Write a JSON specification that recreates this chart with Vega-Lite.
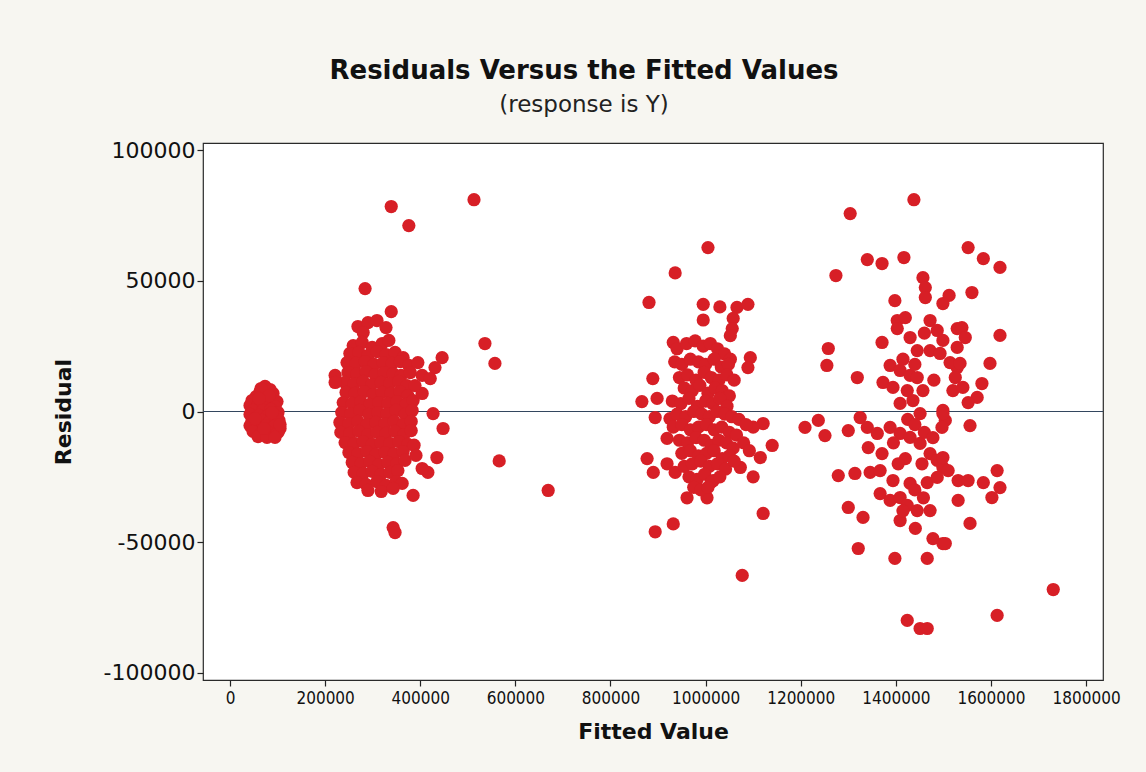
{
  "$schema": "https://vega.github.io/schema/vega-lite/v6.json",
  "width": 900,
  "height": 537,
  "autosize": {"type": "none"},
  "padding": {"left": 203, "top": 143, "right": 43, "bottom": 92},
  "background": "#f7f6f1",
  "title": {
    "text": "Residuals Versus the Fitted Values",
    "subtitle": "(response is Y)",
    "anchor": "middle",
    "dx": -69,
    "offset": 22,
    "font": "DejaVu Sans",
    "fontSize": 26,
    "fontWeight": "bold",
    "color": "#111111",
    "subtitleFont": "DejaVu Sans",
    "subtitleFontSize": 23,
    "subtitleColor": "#222222",
    "subtitlePadding": 10
  },
  "data": {
    "values": [
      {"fitted": 73600, "residual": 9600}, {"fitted": 84100, "residual": 8400}, {"fitted": 63100, "residual": 7600},
      {"fitted": 90400, "residual": 6900}, {"fitted": 54700, "residual": 5700}, {"fitted": 75700, "residual": 5700},
      {"fitted": 46300, "residual": 4200}, {"fitted": 67300, "residual": 4200}, {"fitted": 86200, "residual": 4600},
      {"fitted": 98800, "residual": 3800}, {"fitted": 42100, "residual": 2300}, {"fitted": 58900, "residual": 2300},
      {"fitted": 79900, "residual": 2700}, {"fitted": 94600, "residual": 1900}, {"fitted": 48400, "residual": 400},
      {"fitted": 69400, "residual": 400}, {"fitted": 86200, "residual": 800}, {"fitted": 100900, "residual": -400},
      {"fitted": 42100, "residual": -1100}, {"fitted": 61000, "residual": -1500}, {"fitted": 79900, "residual": -1500},
      {"fitted": 96700, "residual": -1900}, {"fitted": 46300, "residual": -3400}, {"fitted": 67300, "residual": -3400},
      {"fitted": 84100, "residual": -3800}, {"fitted": 103000, "residual": -3400}, {"fitted": 42100, "residual": -5400},
      {"fitted": 56800, "residual": -5700}, {"fitted": 75700, "residual": -5400}, {"fitted": 92500, "residual": -5700},
      {"fitted": 105200, "residual": -6500}, {"fitted": 48400, "residual": -7600}, {"fitted": 67300, "residual": -8000},
      {"fitted": 84100, "residual": -8400}, {"fitted": 100900, "residual": -8000}, {"fitted": 58900, "residual": -9600},
      {"fitted": 77800, "residual": -9900}, {"fitted": 94600, "residual": -9900}, {"fitted": 65200, "residual": 8800},
      {"fitted": 82000, "residual": 6100}, {"fitted": 52600, "residual": -2700}, {"fitted": 71500, "residual": -6500},
      {"fitted": 105200, "residual": -5000}, {"fitted": 88300, "residual": -400}, {"fitted": 61000, "residual": 5000},

      {"fitted": 269000, "residual": 32500}, {"fitted": 290000, "residual": 34000}, {"fitted": 309000, "residual": 34800},
      {"fitted": 328000, "residual": 32100}, {"fitted": 280000, "residual": 30200},
      {"fitted": 259000, "residual": 25200}, {"fitted": 278000, "residual": 26400}, {"fitted": 299000, "residual": 24500},
      {"fitted": 320000, "residual": 26000}, {"fitted": 334000, "residual": 27200},
      {"fitted": 252000, "residual": 22200}, {"fitted": 271000, "residual": 22600}, {"fitted": 290000, "residual": 21400},
      {"fitted": 309000, "residual": 22900}, {"fitted": 328000, "residual": 21800}, {"fitted": 347000, "residual": 22600},
      {"fitted": 364000, "residual": 20600},
      {"fitted": 246000, "residual": 18700}, {"fitted": 265000, "residual": 18400}, {"fitted": 284000, "residual": 19100},
      {"fitted": 303000, "residual": 18000}, {"fitted": 322000, "residual": 18700}, {"fitted": 341000, "residual": 18400},
      {"fitted": 358000, "residual": 19100}, {"fitted": 376000, "residual": 17600},
      {"fitted": 248000, "residual": 14900}, {"fitted": 267000, "residual": 14500}, {"fitted": 286000, "residual": 15300},
      {"fitted": 305000, "residual": 14100}, {"fitted": 324000, "residual": 14900}, {"fitted": 343000, "residual": 14500},
      {"fitted": 360000, "residual": 13800}, {"fitted": 379000, "residual": 14900},
      {"fitted": 242000, "residual": 11100}, {"fitted": 261000, "residual": 10700}, {"fitted": 280000, "residual": 11500},
      {"fitted": 298000, "residual": 10300}, {"fitted": 318000, "residual": 11100}, {"fitted": 336000, "residual": 10700},
      {"fitted": 355000, "residual": 11500}, {"fitted": 372000, "residual": 9900},
      {"fitted": 244000, "residual": 7300}, {"fitted": 263000, "residual": 6900}, {"fitted": 282000, "residual": 7600},
      {"fitted": 301000, "residual": 6500}, {"fitted": 320000, "residual": 7300}, {"fitted": 338000, "residual": 6900},
      {"fitted": 357000, "residual": 7600}, {"fitted": 374000, "residual": 6100},
      {"fitted": 238000, "residual": 3400}, {"fitted": 257000, "residual": 3100}, {"fitted": 275000, "residual": 3800},
      {"fitted": 294000, "residual": 2700}, {"fitted": 313000, "residual": 3400}, {"fitted": 332000, "residual": 3100},
      {"fitted": 351000, "residual": 3800}, {"fitted": 370000, "residual": 2700}, {"fitted": 385000, "residual": 4200},
      {"fitted": 235000, "residual": -400}, {"fitted": 254000, "residual": -800}, {"fitted": 273000, "residual": 400},
      {"fitted": 292000, "residual": -1100}, {"fitted": 311000, "residual": -400}, {"fitted": 330000, "residual": -800},
      {"fitted": 349000, "residual": 400}, {"fitted": 368000, "residual": -1100}, {"fitted": 383000, "residual": 400},
      {"fitted": 231000, "residual": -4200}, {"fitted": 250000, "residual": -4600}, {"fitted": 269000, "residual": -3800},
      {"fitted": 288000, "residual": -5000}, {"fitted": 307000, "residual": -4200}, {"fitted": 326000, "residual": -4600},
      {"fitted": 345000, "residual": -3800}, {"fitted": 364000, "residual": -5000}, {"fitted": 381000, "residual": -3800},
      {"fitted": 233000, "residual": -8000}, {"fitted": 252000, "residual": -8400}, {"fitted": 271000, "residual": -7600},
      {"fitted": 290000, "residual": -8800}, {"fitted": 309000, "residual": -8000}, {"fitted": 328000, "residual": -8400},
      {"fitted": 347000, "residual": -7600}, {"fitted": 366000, "residual": -8800}, {"fitted": 381000, "residual": -7300},
      {"fitted": 242000, "residual": -11900}, {"fitted": 261000, "residual": -12200}, {"fitted": 280000, "residual": -11500},
      {"fitted": 299000, "residual": -12600}, {"fitted": 317000, "residual": -11900}, {"fitted": 336000, "residual": -12200},
      {"fitted": 355000, "residual": -11500}, {"fitted": 374000, "residual": -12600},
      {"fitted": 250000, "residual": -15700}, {"fitted": 269000, "residual": -16100}, {"fitted": 288000, "residual": -15300},
      {"fitted": 307000, "residual": -16400}, {"fitted": 326000, "residual": -15700}, {"fitted": 345000, "residual": -16100},
      {"fitted": 364000, "residual": -15300},
      {"fitted": 257000, "residual": -19500}, {"fitted": 276000, "residual": -19900}, {"fitted": 294000, "residual": -19100},
      {"fitted": 313000, "residual": -20300}, {"fitted": 332000, "residual": -19500}, {"fitted": 351000, "residual": -19900},
      {"fitted": 368000, "residual": -18700},
      {"fitted": 261000, "residual": -23300}, {"fitted": 280000, "residual": -23700}, {"fitted": 299000, "residual": -22900},
      {"fitted": 317000, "residual": -24100}, {"fitted": 336000, "residual": -23300}, {"fitted": 353000, "residual": -22600},
      {"fitted": 267000, "residual": -27200}, {"fitted": 286000, "residual": -27900}, {"fitted": 309000, "residual": -26800},
      {"fitted": 328000, "residual": -28300}, {"fitted": 349000, "residual": -26800}, {"fitted": 362000, "residual": -27500},
      {"fitted": 290000, "residual": -30200}, {"fitted": 318000, "residual": -30600}, {"fitted": 343000, "residual": -29400},
      {"fitted": 284000, "residual": 47000}, {"fitted": 339000, "residual": 38200}, {"fitted": 339000, "residual": 78400},
      {"fitted": 376000, "residual": 71100}, {"fitted": 221000, "residual": 13800}, {"fitted": 221000, "residual": 11100},
      {"fitted": 446000, "residual": 20600}, {"fitted": 431000, "residual": 16800}, {"fitted": 404000, "residual": 13800},
      {"fitted": 421000, "residual": 12600}, {"fitted": 404000, "residual": 6900}, {"fitted": 427000, "residual": -800},
      {"fitted": 448000, "residual": -6500}, {"fitted": 435000, "residual": -17600}, {"fitted": 416000, "residual": -23300},
      {"fitted": 404000, "residual": -21800}, {"fitted": 385000, "residual": -32100}, {"fitted": 343000, "residual": -44400},
      {"fitted": 347000, "residual": -46300}, {"fitted": 395000, "residual": 18700}, {"fitted": 389000, "residual": 9900},
      {"fitted": 387000, "residual": -12900}, {"fitted": 391000, "residual": -16800},

      {"fitted": 513000, "residual": 81000}, {"fitted": 536000, "residual": 26000}, {"fitted": 557000, "residual": 18400},
      {"fitted": 566000, "residual": -18900}, {"fitted": 669000, "residual": -30200},

      {"fitted": 1005000, "residual": 62700}, {"fitted": 936000, "residual": 53000}, {"fitted": 881000, "residual": 41700},
      {"fitted": 995000, "residual": 41000}, {"fitted": 1030000, "residual": 40000}, {"fitted": 1066000, "residual": 39800},
      {"fitted": 1089000, "residual": 41000}, {"fitted": 995000, "residual": 35000}, {"fitted": 1058000, "residual": 35600},
      {"fitted": 1056000, "residual": 31700}, {"fitted": 1052000, "residual": 29000}, {"fitted": 932000, "residual": 26400},
      {"fitted": 1094000, "residual": 20600}, {"fitted": 1089000, "residual": 16800}, {"fitted": 889000, "residual": 12600},
      {"fitted": 866000, "residual": 3800}, {"fitted": 898000, "residual": 5000}, {"fitted": 894000, "residual": -2300},
      {"fitted": 925000, "residual": -2700}, {"fitted": 1121000, "residual": -4600}, {"fitted": 1100000, "residual": -6000},
      {"fitted": 1140000, "residual": -13000}, {"fitted": 919000, "residual": -10300}, {"fitted": 877000, "residual": -18000},
      {"fitted": 890000, "residual": -23300}, {"fitted": 919000, "residual": -20000}, {"fitted": 936000, "residual": -23300},
      {"fitted": 1115000, "residual": -17600}, {"fitted": 1100000, "residual": -25000}, {"fitted": 1073000, "residual": -21400},
      {"fitted": 961000, "residual": -33000}, {"fitted": 1003000, "residual": -33000}, {"fitted": 1016000, "residual": -26400},
      {"fitted": 1121000, "residual": -39000}, {"fitted": 894000, "residual": -46000}, {"fitted": 932000, "residual": -43000},
      {"fitted": 1077000, "residual": -62700},
      {"fitted": 940000, "residual": 24000}, {"fitted": 960000, "residual": 26000}, {"fitted": 978000, "residual": 27000},
      {"fitted": 995000, "residual": 25000}, {"fitted": 1010000, "residual": 26000}, {"fitted": 1025000, "residual": 24000},
      {"fitted": 1040000, "residual": 22000}, {"fitted": 1052000, "residual": 20000},
      {"fitted": 935000, "residual": 19000}, {"fitted": 950000, "residual": 18000}, {"fitted": 968000, "residual": 20000},
      {"fitted": 985000, "residual": 19000}, {"fitted": 1000000, "residual": 18000}, {"fitted": 1018000, "residual": 20000},
      {"fitted": 1033000, "residual": 17000}, {"fitted": 1048000, "residual": 18000},
      {"fitted": 945000, "residual": 13000}, {"fitted": 962000, "residual": 14000}, {"fitted": 980000, "residual": 12000},
      {"fitted": 997000, "residual": 15000}, {"fitted": 1012000, "residual": 13000}, {"fitted": 1028000, "residual": 12000},
      {"fitted": 1045000, "residual": 14000}, {"fitted": 1060000, "residual": 12000},
      {"fitted": 955000, "residual": 9000}, {"fitted": 972000, "residual": 8000}, {"fitted": 988000, "residual": 10000},
      {"fitted": 1005000, "residual": 7000}, {"fitted": 1020000, "residual": 9000}, {"fitted": 1035000, "residual": 8000},
      {"fitted": 1050000, "residual": 6000},
      {"fitted": 930000, "residual": 4000}, {"fitted": 948000, "residual": 3000}, {"fitted": 965000, "residual": 5000},
      {"fitted": 983000, "residual": 2000}, {"fitted": 1000000, "residual": 4000}, {"fitted": 1015000, "residual": 3000},
      {"fitted": 1030000, "residual": 5000}, {"fitted": 1045000, "residual": 2000},
      {"fitted": 940000, "residual": -1000}, {"fitted": 958000, "residual": -2000}, {"fitted": 975000, "residual": 0},
      {"fitted": 992000, "residual": -1000}, {"fitted": 1008000, "residual": -2000}, {"fitted": 1024000, "residual": 0},
      {"fitted": 1040000, "residual": -1000}, {"fitted": 1055000, "residual": -2000}, {"fitted": 1070000, "residual": -3000},
      {"fitted": 1085000, "residual": -5000},
      {"fitted": 932000, "residual": -6000}, {"fitted": 950000, "residual": -5000}, {"fitted": 968000, "residual": -7000},
      {"fitted": 985000, "residual": -6000}, {"fitted": 1002000, "residual": -5000}, {"fitted": 1018000, "residual": -7000},
      {"fitted": 1034000, "residual": -6000}, {"fitted": 1050000, "residual": -8000}, {"fitted": 1065000, "residual": -9000},
      {"fitted": 945000, "residual": -11000}, {"fitted": 962000, "residual": -12000}, {"fitted": 980000, "residual": -10000},
      {"fitted": 997000, "residual": -11000}, {"fitted": 1012000, "residual": -13000}, {"fitted": 1028000, "residual": -11000},
      {"fitted": 1044000, "residual": -12000}, {"fitted": 1058000, "residual": -14000}, {"fitted": 1080000, "residual": -12000},
      {"fitted": 950000, "residual": -16000}, {"fitted": 968000, "residual": -15000}, {"fitted": 985000, "residual": -17000},
      {"fitted": 1002000, "residual": -16000}, {"fitted": 1018000, "residual": -15000}, {"fitted": 1035000, "residual": -18000},
      {"fitted": 1050000, "residual": -17000}, {"fitted": 1092000, "residual": -15000},
      {"fitted": 955000, "residual": -21000}, {"fitted": 972000, "residual": -20000}, {"fitted": 990000, "residual": -19000},
      {"fitted": 1008000, "residual": -21000}, {"fitted": 1025000, "residual": -20000}, {"fitted": 1042000, "residual": -22000},
      {"fitted": 1060000, "residual": -19000},
      {"fitted": 965000, "residual": -25000}, {"fitted": 982000, "residual": -26000}, {"fitted": 998000, "residual": -24000},
      {"fitted": 1012000, "residual": -27000}, {"fitted": 1030000, "residual": -25000},
      {"fitted": 975000, "residual": -29000}, {"fitted": 990000, "residual": -30000}, {"fitted": 1005000, "residual": -29000},

      {"fitted": 1438000, "residual": 81000}, {"fitted": 1304000, "residual": 75700}, {"fitted": 1340000, "residual": 58100},
      {"fitted": 1371000, "residual": 56600}, {"fitted": 1417000, "residual": 58900}, {"fitted": 1274000, "residual": 52000},
      {"fitted": 1457000, "residual": 51200}, {"fitted": 1462000, "residual": 47400}, {"fitted": 1462000, "residual": 43600},
      {"fitted": 1512000, "residual": 44400}, {"fitted": 1499000, "residual": 41300}, {"fitted": 1398000, "residual": 42400},
      {"fitted": 1403000, "residual": 34800}, {"fitted": 1420000, "residual": 35900}, {"fitted": 1403000, "residual": 31700},
      {"fitted": 1472000, "residual": 34800}, {"fitted": 1487000, "residual": 31000}, {"fitted": 1499000, "residual": 27200},
      {"fitted": 1371000, "residual": 26400}, {"fitted": 1529000, "residual": 31700}, {"fitted": 1258000, "residual": 24100},
      {"fitted": 1255000, "residual": 17600}, {"fitted": 1430000, "residual": 28300}, {"fitted": 1445000, "residual": 23300},
      {"fitted": 1472000, "residual": 23300}, {"fitted": 1493000, "residual": 22200}, {"fitted": 1319000, "residual": 13000},
      {"fitted": 1388000, "residual": 17600}, {"fitted": 1409000, "residual": 15700}, {"fitted": 1430000, "residual": 13800},
      {"fitted": 1445000, "residual": 13000}, {"fitted": 1373000, "residual": 11100}, {"fitted": 1394000, "residual": 9200},
      {"fitted": 1424000, "residual": 8000}, {"fitted": 1457000, "residual": 8000}, {"fitted": 1529000, "residual": 16800},
      {"fitted": 1520000, "residual": 8000}, {"fitted": 1409000, "residual": 3100}, {"fitted": 1436000, "residual": 4200},
      {"fitted": 1451000, "residual": -800}, {"fitted": 1499000, "residual": 400}, {"fitted": 1504000, "residual": -3400},
      {"fitted": 1209000, "residual": -6100}, {"fitted": 1237000, "residual": -3400}, {"fitted": 1251000, "residual": -9200},
      {"fitted": 1300000, "residual": -7300}, {"fitted": 1325000, "residual": -2300}, {"fitted": 1340000, "residual": -6100},
      {"fitted": 1361000, "residual": -8400}, {"fitted": 1388000, "residual": -6100}, {"fitted": 1409000, "residual": -8400},
      {"fitted": 1430000, "residual": -9900}, {"fitted": 1451000, "residual": -12200}, {"fitted": 1472000, "residual": -16100},
      {"fitted": 1487000, "residual": -18700}, {"fitted": 1499000, "residual": -21400}, {"fitted": 1342000, "residual": -13800},
      {"fitted": 1371000, "residual": -16100}, {"fitted": 1279000, "residual": -24500}, {"fitted": 1314000, "residual": -23700},
      {"fitted": 1346000, "residual": -23300}, {"fitted": 1367000, "residual": -22600}, {"fitted": 1394000, "residual": -26400},
      {"fitted": 1430000, "residual": -27500}, {"fitted": 1466000, "residual": -27200}, {"fitted": 1487000, "residual": -25200},
      {"fitted": 1367000, "residual": -31400}, {"fitted": 1388000, "residual": -34000}, {"fitted": 1409000, "residual": -32900},
      {"fitted": 1424000, "residual": -35900}, {"fitted": 1445000, "residual": -37900}, {"fitted": 1472000, "residual": -37900},
      {"fitted": 1409000, "residual": -41700}, {"fitted": 1300000, "residual": -36700}, {"fitted": 1331000, "residual": -40500},
      {"fitted": 1441000, "residual": -44700}, {"fitted": 1478000, "residual": -48600}, {"fitted": 1499000, "residual": -50500},
      {"fitted": 1321000, "residual": -52400}, {"fitted": 1398000, "residual": -56200}, {"fitted": 1466000, "residual": -56200},
      {"fitted": 1424000, "residual": -79900}, {"fitted": 1451000, "residual": -83000}, {"fitted": 1466000, "residual": -83000},
      {"fitted": 1415000, "residual": 20000}, {"fitted": 1440000, "residual": 18000}, {"fitted": 1460000, "residual": 30000},
      {"fitted": 1480000, "residual": 12000}, {"fitted": 1425000, "residual": -3000}, {"fitted": 1440000, "residual": -5000},
      {"fitted": 1460000, "residual": -8000}, {"fitted": 1478000, "residual": -10000}, {"fitted": 1420000, "residual": -18000},
      {"fitted": 1455000, "residual": -20000}, {"fitted": 1440000, "residual": -30000}, {"fitted": 1458000, "residual": -33000},
      {"fitted": 1415000, "residual": -38000}, {"fitted": 1395000, "residual": -12000}, {"fitted": 1405000, "residual": -20000},
      {"fitted": 1552000, "residual": 62700}, {"fitted": 1584000, "residual": 58500}, {"fitted": 1619000, "residual": 55100},
      {"fitted": 1560000, "residual": 45500}, {"fitted": 1619000, "residual": 29100}, {"fitted": 1539000, "residual": 32100},
      {"fitted": 1546000, "residual": 28300}, {"fitted": 1529000, "residual": 24500}, {"fitted": 1598000, "residual": 18400},
      {"fitted": 1514000, "residual": 18700}, {"fitted": 1535000, "residual": 18400}, {"fitted": 1525000, "residual": 13000},
      {"fitted": 1541000, "residual": 9200}, {"fitted": 1581000, "residual": 10700}, {"fitted": 1571000, "residual": 5400},
      {"fitted": 1552000, "residual": 3400}, {"fitted": 1556000, "residual": -5400}, {"fitted": 1499000, "residual": -800},
      {"fitted": 1497000, "residual": -6100}, {"fitted": 1499000, "residual": -17600}, {"fitted": 1510000, "residual": -22600},
      {"fitted": 1531000, "residual": -26400}, {"fitted": 1552000, "residual": -26400}, {"fitted": 1584000, "residual": -27200},
      {"fitted": 1613000, "residual": -22600}, {"fitted": 1619000, "residual": -29100}, {"fitted": 1602000, "residual": -32900},
      {"fitted": 1531000, "residual": -34000}, {"fitted": 1556000, "residual": -42800}, {"fitted": 1504000, "residual": -50500},
      {"fitted": 1731000, "residual": -68100}, {"fitted": 1613000, "residual": -78000}
    ]
  },
  "layer": [
    {
      "mark": {"type": "rule", "color": "#33465e", "strokeWidth": 1.2},
      "encoding": {
        "y": {"datum": 0, "type": "quantitative", "scale": {"domain": [-102700, 102700], "nice": false, "zero": false}}
      }
    },
    {
      "mark": {"type": "circle", "size": 175, "color": "#d71f26", "opacity": 1},
      "encoding": {
        "x": {
          "field": "fitted",
          "type": "quantitative",
          "scale": {"domain": [-56800, 1835600], "nice": false, "zero": false},
          "axis": {
            "title": "Fitted Value",
            "values": [0, 200000, 400000, 600000, 800000, 1000000, 1200000, 1400000, 1600000, 1800000],
            "format": "d",
            "domain": false,
            "grid": false,
            "tickSize": 6,
            "tickColor": "#222222",
            "tickWidth": 1.2,
            "labelFont": "DejaVu Sans Condensed, DejaVu Sans",
            "labelFontSize": 17,
            "labelColor": "#111111",
            "labelPadding": 4,
            "labelOverlap": false,
            "labelFlush": false,
            "titleFont": "DejaVu Sans",
            "titleFontSize": 22,
            "titleFontWeight": "bold",
            "titleColor": "#111111",
            "titlePadding": 15
          }
        },
        "y": {
          "field": "residual",
          "type": "quantitative",
          "scale": {"domain": [-102700, 102700], "nice": false, "zero": false},
          "axis": {
            "title": "Residual",
            "values": [-100000, -50000, 0, 50000, 100000],
            "format": "d",
            "labelExpr": "replace(datum.label, '−', '-')",
            "domain": false,
            "grid": false,
            "tickSize": 6,
            "tickColor": "#222222",
            "tickWidth": 1.2,
            "labelFont": "DejaVu Sans",
            "labelFontSize": 22,
            "labelColor": "#111111",
            "labelPadding": 2,
            "labelOverlap": false,
            "labelFlush": false,
            "titleFont": "DejaVu Sans",
            "titleFontSize": 22,
            "titleFontWeight": "bold",
            "titleColor": "#111111",
            "titlePadding": 28
          }
        }
      }
    }
  ],
  "config": {
    "view": {"stroke": "#2a2a2a", "strokeWidth": 1.2, "fill": "#ffffff"}
  }
}
